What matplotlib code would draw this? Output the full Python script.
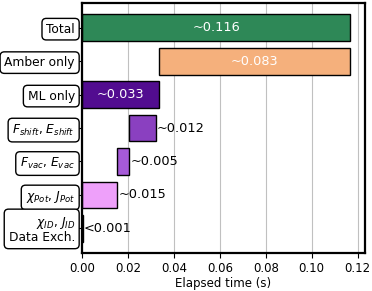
import matplotlib
matplotlib.use("Agg")
import matplotlib.pyplot as plt

labels = [
    "Total",
    "Amber only",
    "ML only",
    r"$F_{shift}$, $E_{shift}$",
    r"$F_{vac}$, $E_{vac}$",
    r"$\chi_{Pot}$, $J_{Pot}$",
    "$\\chi_{ID}$, $J_{ID}$\nData Exch.",
]
starts = [0.0, 0.0335, 0.0, 0.0205, 0.0153, 0.0, 0.0]
widths = [0.1168, 0.0833, 0.0335, 0.0117, 0.0053, 0.0153, 0.0004]
texts = ["~0.116", "~0.083", "~0.033", "~0.012", "~0.005", "~0.015", "<0.001"]
inside = [True, True, True, False, False, False, False]
colors = ["#2e8857", "#f5b07c", "#520c90", "#8a40c0", "#a65ad8", "#eea0fa", "#d9c0f0"]


def main():
    plt.rcParams["font.size"] = 8.5
    plt.rcParams["mathtext.fontset"] = "dejavusans"
    fig, ax = plt.subplots(figsize=(3.72, 2.91), dpi=100)

    ypos = list(range(len(labels)))
    ax.set_axisbelow(True)
    ax.grid(True, axis="x", color="#c0c0c0", linewidth=0.8)
    ax.barh(ypos, widths, left=starts, height=0.8, color=colors,
            edgecolor="black", linewidth=1.0)

    for y, s, w, t, inn in zip(ypos, starts, widths, texts, inside):
        if inn:
            ax.text(s + w / 2, y, t, ha="center", va="center",
                    color="white", fontsize=9.3)
        else:
            ax.text(s + w + 0.0005, y, t, ha="left", va="center",
                    color="black", fontsize=9.3)

    ax.set_yticks(ypos)
    ax.set_yticklabels(labels, fontsize=8.8, linespacing=1.0)
    ax.tick_params(axis="y", pad=1.5)
    ax.tick_params(axis="x", pad=2.5)
    for lab in ax.get_yticklabels():
        lab.set_bbox(dict(boxstyle="round,pad=0.35", facecolor="white",
                          edgecolor="black", linewidth=1.0))
    ax.invert_yaxis()
    ax.set_xlim(0, 0.123)
    ax.set_xticks([0.0, 0.02, 0.04, 0.06, 0.08, 0.10, 0.12])
    ax.set_xlabel("Elapsed time (s)", fontsize=8.5, labelpad=2)
    for sp in ax.spines.values():
        sp.set_linewidth(1.6)

    fig.subplots_adjust(left=0.22, right=0.98, top=0.99, bottom=0.13)
    fig.savefig("out.png", dpi=100)


if __name__ == "__main__":
    main()
